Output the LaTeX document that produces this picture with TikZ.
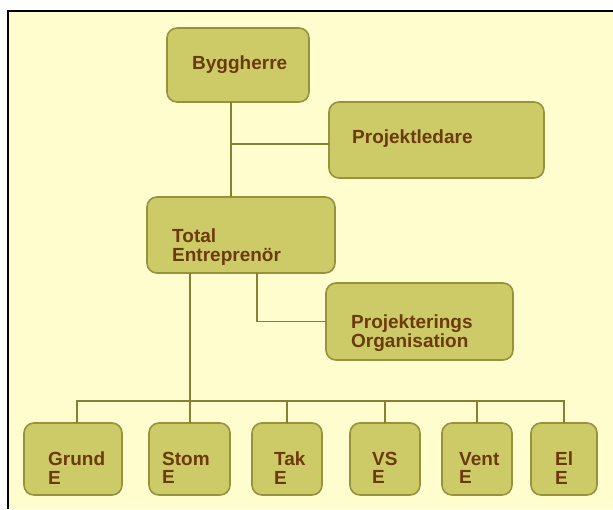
\documentclass[tikz,border=0pt]{standalone}
\usepackage{fontspec}
\setmainfont{Liberation Sans}
\usetikzlibrary{positioning}
\definecolor{paper}{RGB}{255,253,206}
\definecolor{boxfill}{RGB}{204,203,104}
\definecolor{boxline}{RGB}{150,146,62}
\definecolor{linkcol}{RGB}{135,128,52}
\definecolor{txtbrown}{RGB}{108,58,12}

\begin{document}
\begin{tikzpicture}[
  x=1pt, y=-1pt,
  every node/.style={font=\fontsize{19}{18.5}\selectfont\bfseries, text=txtbrown},
  orgbox/.style={draw=boxline, line width=1.6pt, fill=boxfill, rounded corners=10pt, inner sep=0pt, outer sep=0pt},
  lbl/.style={anchor=north west, inner sep=0pt, align=left},
  link/.style={draw=linkcol, line width=1.8pt}
]
\useasboundingbox (0,0) rectangle (613,509);

% Frame
\fill[white] (0,0) rectangle (613,509);
\fill[paper] (9,12) rectangle (613,509);
\draw[line width=2.5pt] (8,509) -- (8,11) -- (613,11);

% Upper boxes
\node[orgbox, minimum width=142pt, minimum height=74pt] (bh) at (238,65) {};
\node[orgbox, minimum width=215pt, minimum height=76pt] (pl) at (436.5,140) {};
\node[orgbox, minimum width=188pt, minimum height=76pt] (te) at (241,235) {};
\node[orgbox, minimum width=187pt, minimum height=77pt] (po) at (419.5,321.5) {};

\node[lbl] (bhtxt) at (192,56) {Byggherre};
\node[lbl] (pltxt) at (352,130) {Projektledare};
\node[lbl] (tetxt) at (172,229) {Total\\Entreprenör};
\node[lbl] (potxt) at (351,315) {Projekterings\\Organisation};

% Contractor boxes
\node[orgbox, minimum width=98pt, minimum height=72pt] (grund) at (73,459) {};
\node[orgbox, minimum width=81pt, minimum height=72pt] (stom) at (189.5,459) {};
\node[orgbox, minimum width=70pt, minimum height=72pt] (tak) at (287,459) {};
\node[orgbox, minimum width=70pt, minimum height=72pt] (vs) at (385,459) {};
\node[orgbox, minimum width=70pt, minimum height=72pt] (vent) at (477,459) {};
\node[orgbox, minimum width=66pt, minimum height=72pt] (el) at (564,459) {};

\node[lbl] (grtxt) at (48,452) {Grund\\E};
\node[lbl] (sttxt) at (162,452) {Stom\\E};
\node[lbl] (tktxt) at (274,452) {Tak\\E};
\node[lbl] (vstxt) at (372,452) {VS\\E};
\node[lbl] (vetxt) at (459,452) {Vent\\E};
\node[lbl] (eltxt) at (555,452) {El\\E};

% Connectors
\coordinate (j1) at (231,144);
\coordinate (tap) at (257,300);
\coordinate (trunk) at (190,300);
\coordinate (bus) at (0,401);

\draw[link] (bh.south -| j1) -- (te.north -| j1);
\draw[link] (j1) -- (j1 -| pl.west);
\draw[link] (te.south -| tap) |- (po.west);
\draw[link] (te.south -| trunk) -- (stom.north -| trunk);
\draw[link] ([xshift=4pt]grund.north) |- (el.north |- bus) -- (el.north);
\draw[link] (tak.north |- bus) -- (tak.north);
\draw[link] (vs.north |- bus) -- (vs.north);
\draw[link] (vent.north |- bus) -- (vent.north);

\end{tikzpicture}
\end{document}
